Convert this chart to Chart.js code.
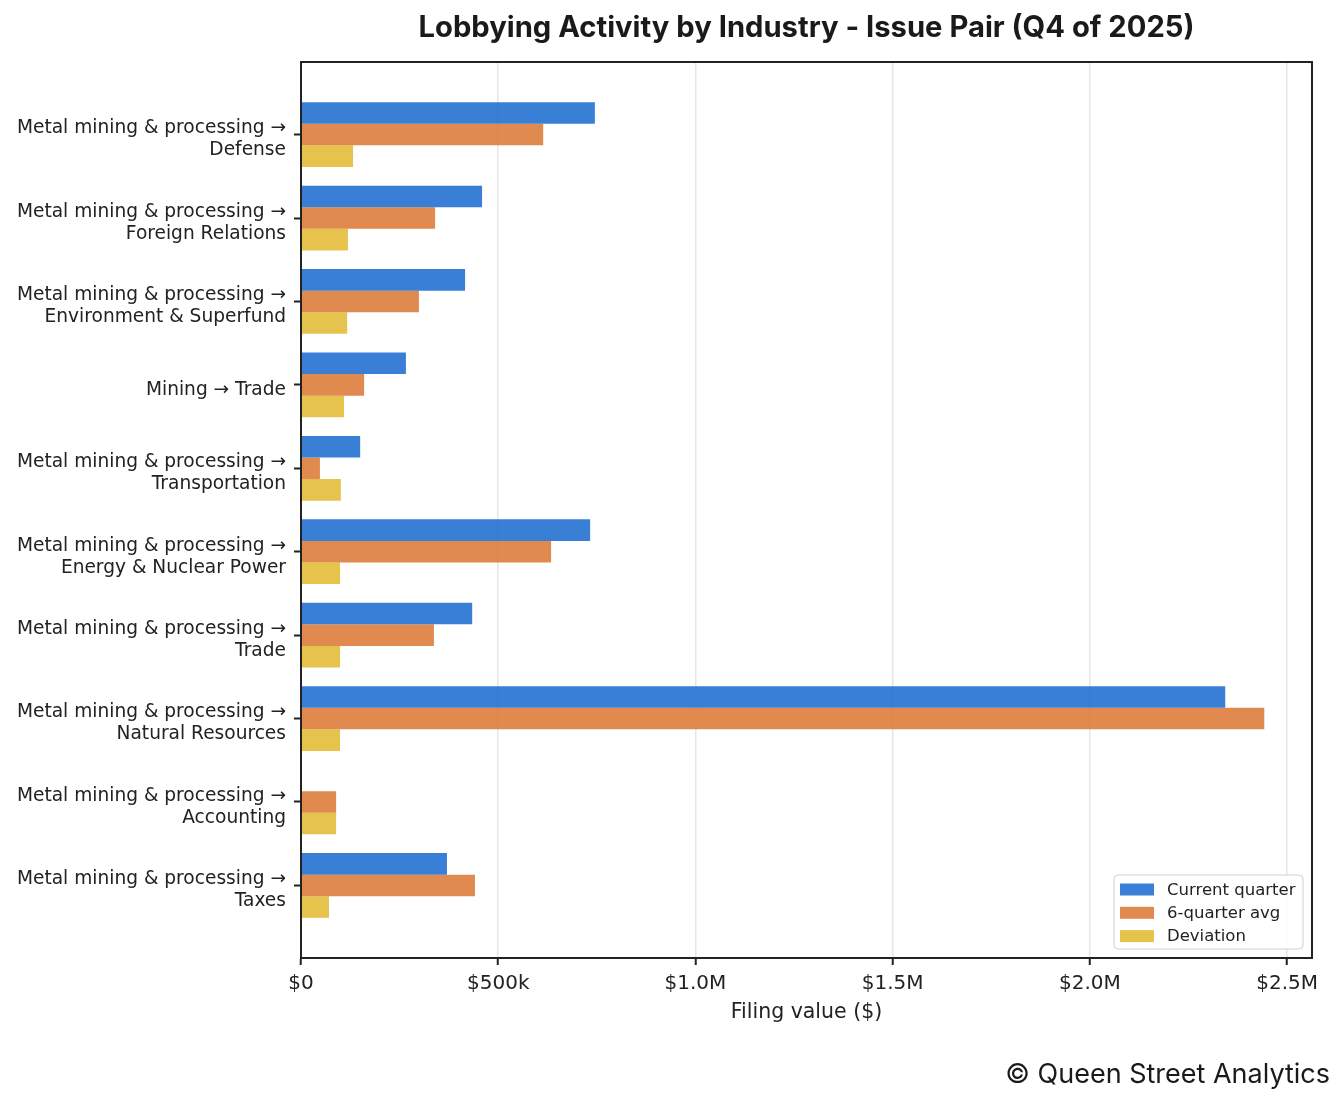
<!DOCTYPE html>
<html>
<head>
<meta charset="utf-8">
<script src="https://cdn.jsdelivr.net/npm/chart.js@4.4.1/dist/chart.umd.min.js"></script>
<style>
  html, body { margin: 0; padding: 0; background: #fff; }
  #wrap { width: 1344px; height: 1104px; }
</style>
</head>
<body>
<div id="wrap"><canvas id="lobbyChart" width="1344" height="1104"></canvas></div>
<script>
const categories = [
    "Metal mining & processing → Defense",
    "Metal mining & processing → Foreign Relations",
    "Metal mining & processing → Environment & Superfund",
    "Mining → Trade",
    "Metal mining & processing → Transportation",
    "Metal mining & processing → Energy & Nuclear Power",
    "Metal mining & processing → Trade",
    "Metal mining & processing → Natural Resources",
    "Metal mining & processing → Accounting",
    "Metal mining & processing → Taxes"
];
const currentQuarter = [745000, 459000, 416000, 266000, 150000, 733000, 434000, 2343000, 0, 370000];
const sixQuarterAvg = [614000, 340000, 299000, 160000, 48000, 634000, 337000, 2442000, 89000, 441000];
const deviation = [132000, 119000, 117000, 109000, 101000, 99000, 99000, 99000, 89000, 71000];
const seriesNames = ["Current quarter", "6-quarter avg", "Deviation"];
const xTickValues = [0, 500000, 1000000, 1500000, 2000000, 2500000];

const colors = ["rgba(37,113,209,0.9)", "rgba(221,125,61,0.9)", "rgba(227,188,56,0.9)"];
const ink = "#222222";

function formatMoney(v) {
    if (v === 0) return "$0";
    if (v < 1000000) return "$" + Math.round(v / 1000) + "k";
    return "$" + (v / 1000000).toFixed(1) + "M";
}

function wrapLabel(name) {
    if (name.length < 20) return name;
    const cut = name.indexOf("→") + 1;
    return [name.slice(0, cut), name.slice(cut).trim()];
}

function points(values) {
    return values.map((v, i) => ({ x: v, y: i }));
}

// title, legend box, frame and credit line drawn on the canvas
const extras = {
    id: "extras",
    afterDraw(chart) {
        const ctx = chart.ctx;
        const a = chart.chartArea;
        ctx.save();

        ctx.strokeStyle = ink;
        ctx.lineWidth = 2;
        ctx.strokeRect(a.left, a.top, a.right - a.left, a.bottom - a.top);

        ctx.fillStyle = "#1a1a1a";
        ctx.font = "bold 29.2px Inter";
        ctx.textAlign = "center";
        ctx.textBaseline = "alphabetic";
        ctx.fillText("Lobbying Activity by Industry - Issue Pair (Q4 of 2025)", (a.left + a.right) / 2, 37);

        ctx.font = "27px Inter";
        ctx.textAlign = "right";
        ctx.fillText("© Queen Street Analytics", 1330, 1083);

        // legend
        const bx = a.right - 198, by = a.bottom - 83, bw = 189, bh = 74;
        ctx.beginPath();
        ctx.roundRect(bx, by, bw, bh, 4);
        ctx.fillStyle = "rgba(255,255,255,0.85)";
        ctx.fill();
        ctx.strokeStyle = "#d0d0d0";
        ctx.lineWidth = 1;
        ctx.stroke();
        ctx.font = "16.5px 'DejaVu Sans'";
        ctx.textAlign = "left";
        ctx.textBaseline = "middle";
        seriesNames.forEach((name, i) => {
            const cy = by + 14.5 + i * 23.3;
            ctx.fillStyle = colors[i];
            ctx.fillRect(bx + 6, cy - 6, 34, 12);
            ctx.fillStyle = ink;
            ctx.fillText(name, bx + 53, cy + 1);
        });
        ctx.restore();
    }
};

new Chart(document.getElementById("lobbyChart"), {
    type: "bar",
    data: {
        datasets: [
            { label: seriesNames[0], data: points(currentQuarter), backgroundColor: colors[0] },
            { label: seriesNames[1], data: points(sixQuarterAvg), backgroundColor: colors[1] },
            { label: seriesNames[2], data: points(deviation), backgroundColor: colors[2] }
        ]
    },
    options: {
        indexAxis: "y",
        responsive: false,
        animation: false,
        categoryPercentage: 0.776,
        barPercentage: 1.0,
        layout: { padding: { top: 62, right: 32, bottom: 71, left: 0 } },
        plugins: {
            legend: { display: false },
            tooltip: { enabled: false }
        },
        scales: {
            y: {
                type: "linear",
                reverse: true,
                offset: false,
                min: -0.87,
                max: 9.87,
                afterBuildTicks: scale => {
                    scale.ticks = categories.map((c, i) => ({ value: i }));
                },
                afterFit: scale => { scale.width = 301; },
                ticks: {
                    callback: value => wrapLabel(categories[value]),
                    color: ink,
                    padding: 8,
                    labelOffset: 5,
                    font: { family: "DejaVu Sans", size: 18.6, lineHeight: 1.18 }
                },
                grid: { offset: false, drawOnChartArea: false, tickLength: 7, tickColor: ink, tickWidth: 2 },
                border: { color: ink, width: 2 }
            },
            x: {
                type: "linear",
                min: 0,
                max: 2563000,
                afterBuildTicks: scale => {
                    scale.ticks = xTickValues.map(v => ({ value: v }));
                },
                afterFit: scale => { scale.height = 75; },
                ticks: {
                    callback: value => formatMoney(value),
                    color: ink,
                    padding: 7,
                    maxRotation: 0,
                    font: { family: "DejaVu Sans", size: 20 }
                },
                grid: { color: "#e6e6e6", lineWidth: 1.5, tickLength: 7, tickColor: ink, tickWidth: 2 },
                border: { color: ink, width: 2 },
                title: {
                    display: true,
                    text: "Filing value ($)",
                    color: ink,
                    padding: { top: 0, bottom: 8 },
                    font: { family: "DejaVu Sans", size: 20.5 }
                }
            }
        }
    },
    plugins: [extras]
});
</script>
</body>
</html>
